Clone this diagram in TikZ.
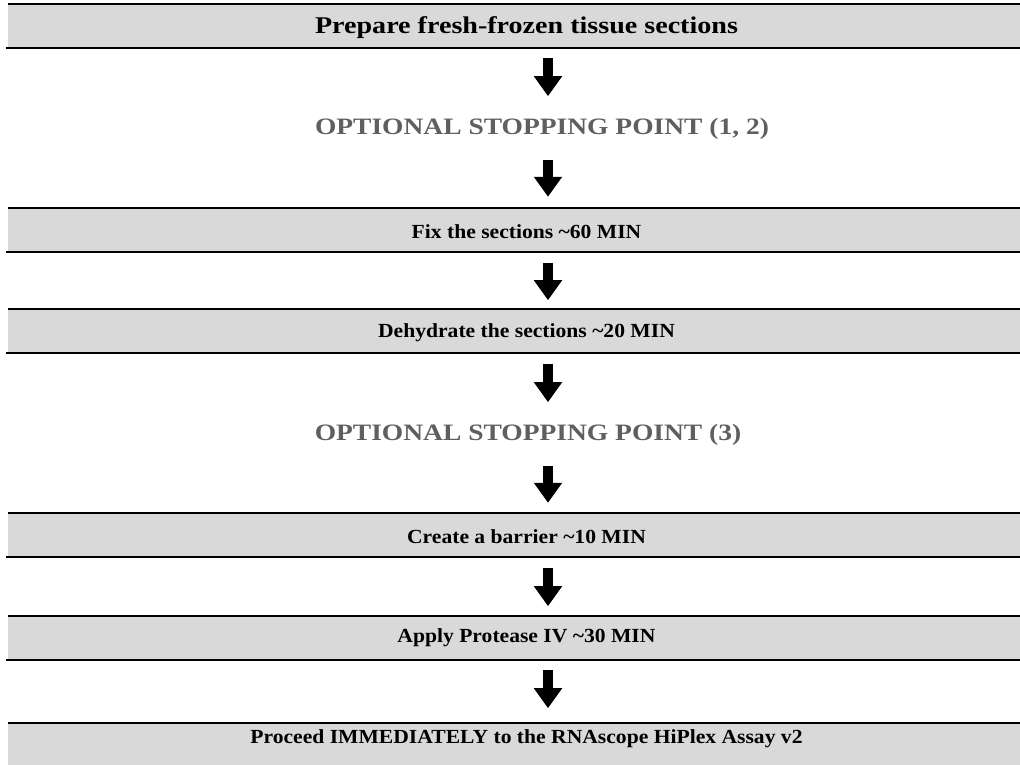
\documentclass[tikz,border=0pt]{standalone}
\usepackage{fontspec}
\setmainfont{Liberation Serif}[FakeStretch=1.17]
\newfontfamily\midfont{Liberation Serif}[FakeStretch=1.08]
\usetikzlibrary{arrows.meta}
\definecolor{boxgray}{HTML}{D9D9D9}
\definecolor{optgray}{HTML}{5F5F5F}
\begin{document}
\begin{tikzpicture}[x=1pt,y=-1pt,
  stepbox/.style={rectangle,fill=boxgray,inner sep=0pt,minimum width=1012pt,minimum height=44pt},
  steptext/.style={font=\midfont\fontsize{20}{24}\selectfont\bfseries,inner sep=0pt},
  toptext/.style={font=\fontsize{24}{28}\selectfont\bfseries,inner sep=0pt},
  opttext/.style={font=\fontsize{23.5}{28}\selectfont\bfseries,text=optgray,inner sep=0pt},
  rule/.style={line width=2pt},
  blockarrow/.style={line width=10pt,-{Triangle[width=27pt,length=20pt]}}]
\useasboundingbox (0,0) rectangle (1020,765);
% boxes
\node[stepbox] (b1) at (514,26) {};
\node[stepbox] (b2) at (514,230) {};
\node[stepbox] (b3) at (514,331) {};
\node[stepbox] (b4) at (514,535) {};
\node[stepbox] (b5) at (514,638) {};
\node[stepbox] (b6) at (514,745) {};
\foreach \b in {b1,b2,b3,b4,b5,b6}{
  \draw[rule] ([xshift=-2pt]\b.south west) -- (\b.south east);
  \draw[rule] (\b.north west) -- (\b.north east);
}
% texts
\node[toptext] (t1) at (526.5,28) {Prepare fresh-frozen tissue sections};
\node[opttext] (o1) at (542,129) {OPTIONAL STOPPING POINT (1, 2)};
\node[steptext] (t2) at (526.5,231.5) {Fix the sections \textasciitilde60 MIN};
\node[steptext] (t3) at (526.5,332.5) {Dehydrate the sections \textasciitilde20 MIN};
\node[opttext] (o2) at (528,435) {OPTIONAL STOPPING POINT (3)};
\node[steptext] (t4) at (526.5,536.5) {Create a barrier \textasciitilde10 MIN};
\node[steptext] (t5) at (526.5,637.5) {Apply Protease IV \textasciitilde30 MIN};
\node[steptext] (t6) at (526.5,739) {Proceed IMMEDIATELY to the RNAscope HiPlex Assay v2};
% arrows
\coordinate (ax) at (548,0);
\draw[blockarrow] (b1.south -| ax) ++(0,10) -- ++(0,38);
\draw[blockarrow] (b2.north -| ax) ++(0,-48) -- ++(0,37);
\draw[blockarrow] (b2.south -| ax) ++(0,11) -- ++(0,37);
\draw[blockarrow] (b3.south -| ax) ++(0,11) -- ++(0,38);
\draw[blockarrow] (b4.north -| ax) ++(0,-47) -- ++(0,37);
\draw[blockarrow] (b4.south -| ax) ++(0,11) -- ++(0,38);
\draw[blockarrow] (b5.south -| ax) ++(0,10) -- ++(0,38);
\end{tikzpicture}
\end{document}
